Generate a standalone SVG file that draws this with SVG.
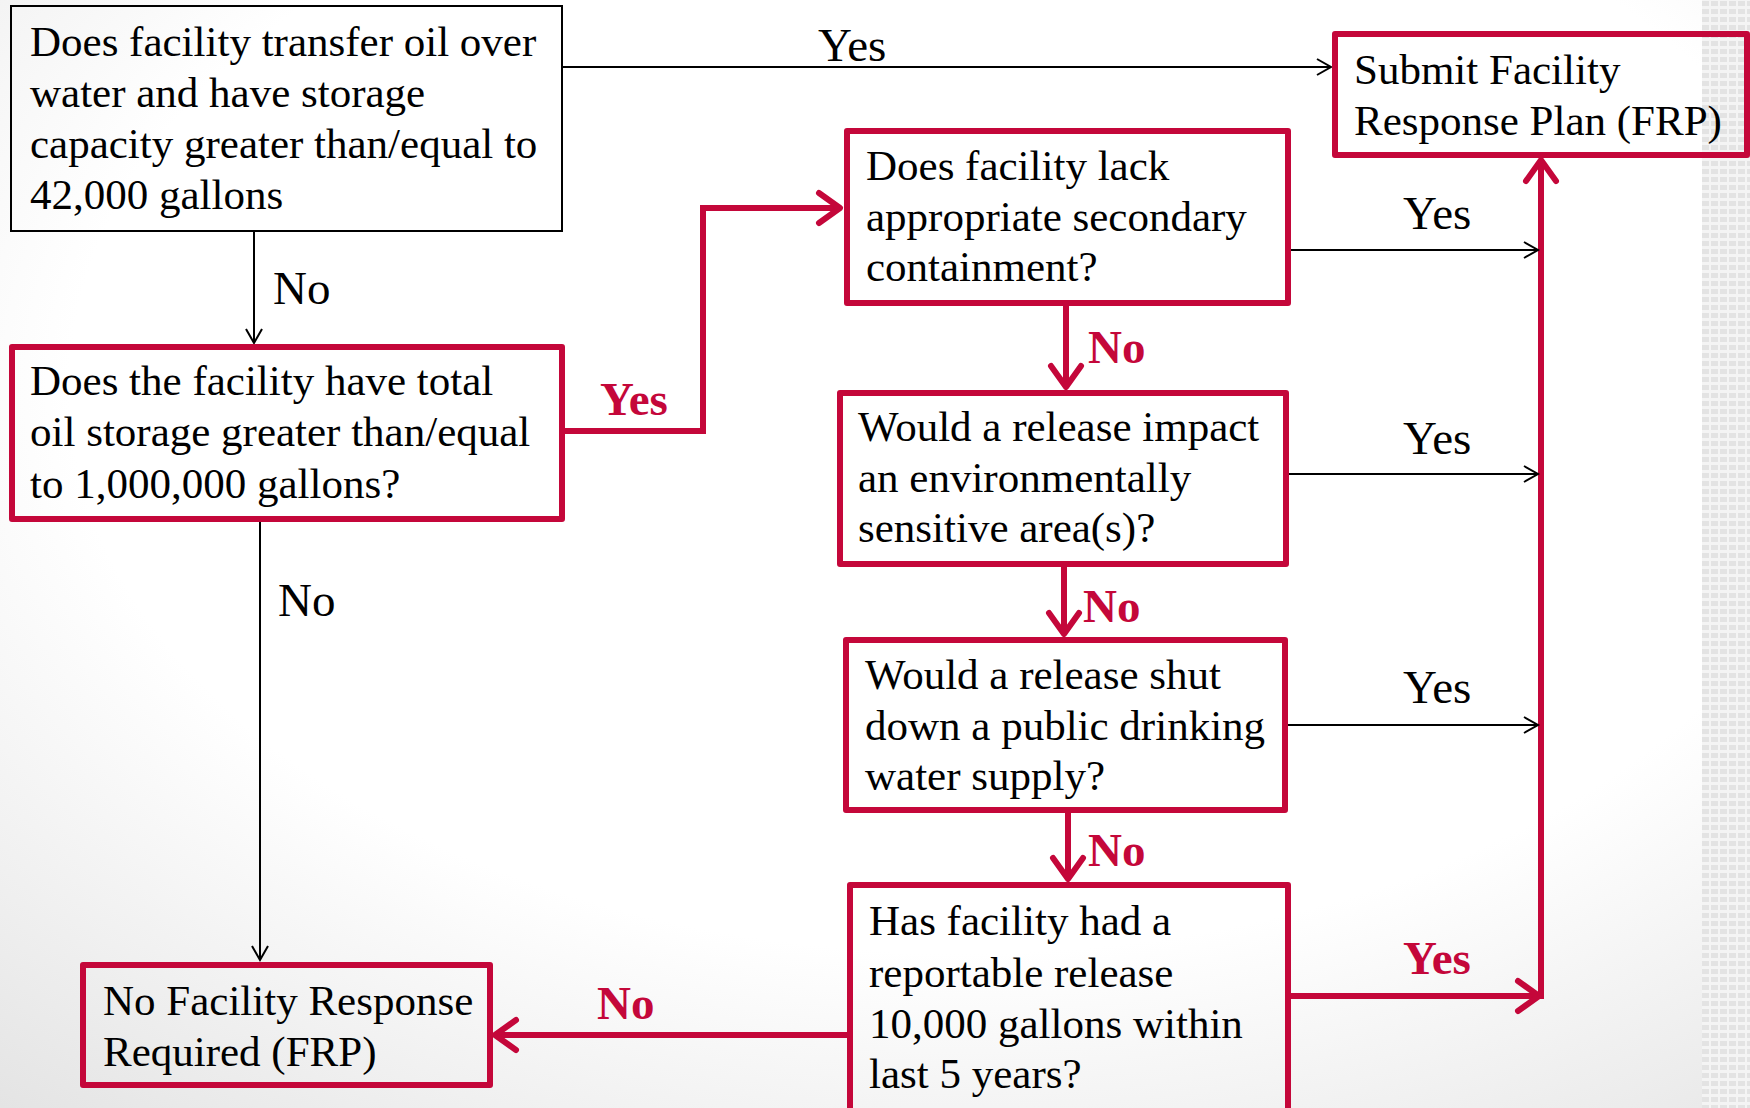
<svg xmlns="http://www.w3.org/2000/svg" width="1750" height="1108" viewBox="0 0 1750 1108">
<defs>
<style>
.t{font-family:"Liberation Serif","Times New Roman",serif;font-size:43px;fill:#000}
.l{font-family:"Liberation Serif","Times New Roman",serif;font-size:47px;fill:#000}
.rl{font-family:"Liberation Serif","Times New Roman",serif;font-size:47px;font-weight:bold;fill:#C4073A}
.bb{fill:none;stroke:#000;stroke-width:2}
.rb{fill:none;stroke:#C4073A;stroke-width:6;stroke-linejoin:round}
.bc{fill:none;stroke:#000;stroke-width:2}
.rc{fill:none;stroke:#C4073A;stroke-width:6;stroke-linejoin:miter}
</style>
<marker id="ab" viewBox="-16 -10 18 20" refX="0" refY="0" markerWidth="18" markerHeight="20" markerUnits="userSpaceOnUse" orient="auto" overflow="visible">
<path d="M-14,-8 L0,0 L-14,8" fill="none" stroke="#000" stroke-width="2"/>
</marker>
<marker id="ar" viewBox="-26 -20 30 40" refX="0" refY="0" markerWidth="30" markerHeight="40" markerUnits="userSpaceOnUse" orient="auto" overflow="visible">
<path d="M-21,-15 L0,0 L-21,15" fill="none" stroke="#C4073A" stroke-width="6" stroke-linecap="round" stroke-linejoin="round"/>
</marker>
<radialGradient id="bg" cx="0.55" cy="0.35" r="0.85">
<stop offset="0.6" stop-color="#ffffff"/>
<stop offset="1" stop-color="#e4e4e4"/>
</radialGradient>
<pattern id="grid" x="0" y="0" width="9" height="8" patternUnits="userSpaceOnUse">
<rect width="9" height="8" fill="#f4f4f4"/>
<rect x="1" y="1" width="7" height="5" fill="#e3e3e3"/>
</pattern>
</defs>
<rect width="1750" height="1108" fill="url(#bg)"/>
<rect x="1702" y="0" width="48" height="1108" fill="url(#grid)"/>

<g id="connectors">
<line class="bc" x1="562" y1="67" x2="1331" y2="67" marker-end="url(#ab)"/>
<line class="bc" x1="254" y1="231" x2="254" y2="343" marker-end="url(#ab)"/>
<line class="bc" x1="260" y1="519" x2="260" y2="960" marker-end="url(#ab)"/>
<polyline class="rc" points="562,431 703,431 703,208 840,208" marker-end="url(#ar)"/>
<line class="rc" x1="1066" y1="304" x2="1066" y2="387" marker-end="url(#ar)"/>
<line class="rc" x1="1064" y1="565" x2="1064" y2="634" marker-end="url(#ar)"/>
<line class="rc" x1="1068" y1="811" x2="1068" y2="879" marker-end="url(#ar)"/>
<line class="rc" x1="848" y1="1035" x2="495" y2="1035" marker-end="url(#ar)"/>
<line class="rc" x1="1289" y1="996" x2="1539" y2="996" marker-end="url(#ar)"/>
<line class="rc" x1="1541" y1="999" x2="1541" y2="160" marker-end="url(#ar)"/>
<line class="bc" x1="1289" y1="250" x2="1538" y2="250" marker-end="url(#ab)"/>
<line class="bc" x1="1287" y1="474" x2="1538" y2="474" marker-end="url(#ab)"/>
<line class="bc" x1="1286" y1="725" x2="1538" y2="725" marker-end="url(#ab)"/>
<text class="l" x="818" y="61">Yes</text>
<text class="l" x="273" y="304">No</text>
<text class="l" x="278" y="616">No</text>
<text class="rl" x="600" y="415">Yes</text>
<text class="rl" x="1088" y="363">No</text>
<text class="rl" x="1083" y="622">No</text>
<text class="rl" x="1088" y="866">No</text>
<text class="rl" x="597" y="1019">No</text>
<text class="rl" x="1403" y="974">Yes</text>
<text class="l" x="1403" y="229">Yes</text>
<text class="l" x="1403" y="454">Yes</text>
<text class="l" x="1403" y="703">Yes</text>
</g>

<g id="n1">
<rect class="bb" x="11" y="6" width="551" height="225"/>
<text class="t" x="30" y="56">Does facility transfer oil over</text>
<text class="t" x="30" y="107">water and have storage</text>
<text class="t" x="30" y="158">capacity greater than/equal to</text>
<text class="t" x="30" y="209">42,000 gallons</text>
</g>

<g id="n2">
<rect class="rb" x="12" y="347" width="550" height="172"/>
<text class="t" x="30" y="395">Does the facility have total</text>
<text class="t" x="30" y="446">oil storage greater than/equal</text>
<text class="t" x="30" y="498">to 1,000,000 gallons?</text>
</g>

<g id="submit">
<rect class="rb" x="1335" y="34" width="412" height="121"/>
<text class="t" x="1354" y="84">Submit Facility</text>
<text class="t" x="1354" y="135">Response Plan (FRP)</text>
</g>

<g id="n3">
<rect class="rb" x="847" y="131" width="441" height="172"/>
<text class="t" x="866" y="180">Does facility lack</text>
<text class="t" x="866" y="231">appropriate secondary</text>
<text class="t" x="866" y="281">containment?</text>
</g>

<g id="n4">
<rect class="rb" x="840" y="393" width="446" height="171"/>
<text class="t" x="858" y="441">Would a release impact</text>
<text class="t" x="858" y="492">an environmentally</text>
<text class="t" x="858" y="542">sensitive area(s)?</text>
</g>

<g id="n5">
<rect class="rb" x="846" y="640" width="439" height="170"/>
<text class="t" x="865" y="689">Would a release shut</text>
<text class="t" x="865" y="740">down a public drinking</text>
<text class="t" x="865" y="790">water supply?</text>
</g>

<g id="n6">
<rect class="rb" x="850" y="885" width="438" height="235"/>
<text class="t" x="869" y="935">Has facility had a</text>
<text class="t" x="869" y="987">reportable release</text>
<text class="t" x="869" y="1038">10,000 gallons within</text>
<text class="t" x="869" y="1088">last 5 years?</text>
</g>

<g id="n7">
<rect class="rb" x="83" y="965" width="407" height="120"/>
<text class="t" x="103" y="1015">No Facility Response</text>
<text class="t" x="103" y="1066">Required (FRP)</text>
</g>
</svg>
